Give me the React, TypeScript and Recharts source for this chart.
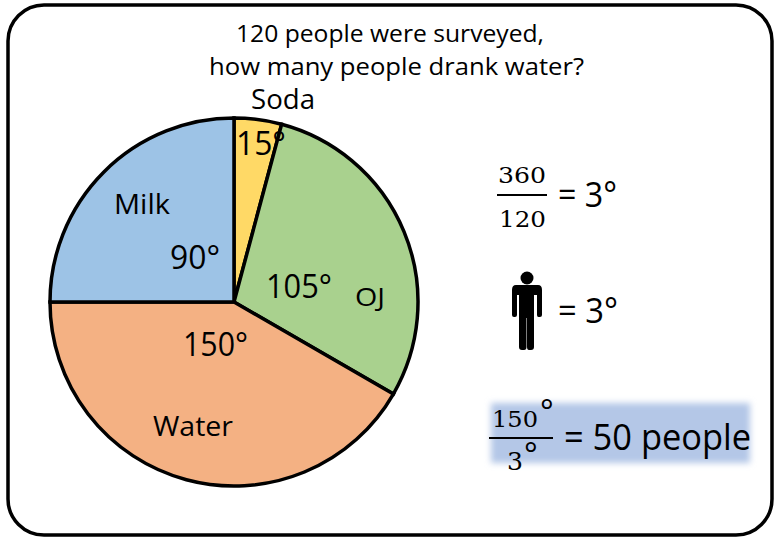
import { Pie, PieChart, Cell } from "recharts";

const drinks = ["Soda", "OJ", "Water", "Milk"];
const degrees = [15, 105, 150, 90];
const sliceColors = ["#ffd966", "#a9d18e", "#f4b183", "#9dc3e6"];

const sans = "'Open Sans', sans-serif";
const serif = "'DejaVu Serif', serif";

// pie center and radius as measured on the reference
const CX = 234;
const CY = 302;
const RADIUS = 184;

// where each slice's name and degree text sit, same order as drinks
const nameSpots = [
  { x: 251, y: 109, size: 28, width: 64 },
  { x: 355, y: 306, size: 25, width: 30 },
  { x: 153, y: 436, size: 28, width: 80 },
  { x: 114, y: 214, size: 28, width: 56 },
];
const degreeSpots = [
  { x: 236, y: 155, size: 33, width: 50 },
  { x: 266, y: 298, size: 32, width: 66 },
  { x: 183, y: 356, size: 32, width: 65 },
  { x: 170, y: 269, size: 32, width: 50 },
];

const rows = drinks.map((name, i) => ({ name, value: degrees[i] }));

function Label({ x, y, size, children, font = sans, width }: any) {
  return (
    <text
      x={x}
      y={y}
      fontSize={size}
      fontFamily={font}
      fill="#000"
      textLength={width}
      lengthAdjust={width ? "spacingAndGlyphs" : undefined}
    >
      {children}
    </text>
  );
}

// Pie draws its labels above the slices, so the texts go here
function sliceLabel({ index }: any) {
  return (
    <g key={drinks[index]}>
      <Label {...nameSpots[index]}>{drinks[index]}</Label>
      <Label {...degreeSpots[index]}>{`${degrees[index]}°`}</Label>
    </g>
  );
}

export default function App() {
  return (
    <div style={{ position: "absolute", left: 0, top: 0, width: 780, height: 540, background: "#fff" }}>
      <PieChart width={780} height={540} margin={{ top: 0, right: 0, bottom: 0, left: 0 }}>
        <defs>
          <filter id="soft" x="-10%" y="-30%" width="120%" height="160%">
            <feGaussianBlur stdDeviation="3" />
          </filter>
        </defs>
        <rect x={8} y={5} width={764} height={530} rx={36} fill="none" stroke="#000" strokeWidth={3.5} />
        <rect x={491} y={403} width={259} height={60} fill="#b4c7e7" filter="url(#soft)" />
        <Pie
          data={rows}
          dataKey="value"
          nameKey="name"
          cx={CX}
          cy={CY}
          outerRadius={RADIUS}
          startAngle={90}
          endAngle={-270}
          stroke="#000"
          strokeWidth={3.5}
          isAnimationActive={false}
          label={sliceLabel}
          labelLine={false}
        >
          {rows.map((row, i) => (
            <Cell key={row.name} fill={sliceColors[i]} />
          ))}
        </Pie>

        <Label x={236} y={42} size={24} width={308}>120 people were surveyed,</Label>
        <Label x={209} y={75} size={24} width={375}>how many people drank water?</Label>

        <Label x={498} y={183} size={23} font={serif} width={48}>360</Label>
        <line x1={497} x2={547} y1={195} y2={195} stroke="#000" strokeWidth={2} />
        <Label x={499} y={227} size={23} font={serif} width={47}>120</Label>
        <Label x={558} y={207} size={34} width={59}>= 3°</Label>
        <Label x={558} y={323} size={34} width={60}>= 3°</Label>

        {/* figure icon */}
        <circle cx={527} cy={278} r={6.5} fill="#000" />
        <path
          d="M516 285 H538 Q542 285 542 290 V315 Q542 317 540 317 H538.5 Q537 317 537 315 V295 H534 V347 Q534 350 531 350 H529 Q527 350 527 347 V318 H526.5 V347 Q526.5 350 524 350 H522 Q519 350 519 347 V295 H517 V315 Q517 317 515 317 H514 Q512 317 512 315 V290 Q512 285 516 285 Z"
          fill="#000"
        />

        <Label x={492} y={427} size={23} font={serif} width={46}>150</Label>
        <Label x={540} y={423} size={32}>°</Label>
        <line x1={489} x2={553} y1={438} y2={438} stroke="#000" strokeWidth={2} />
        <Label x={507} y={470} size={25} font={serif} width={16}>3</Label>
        <Label x={524} y={466} size={32}>°</Label>
        <Label x={564} y={450} size={36} width={187}>= 50 people</Label>
      </PieChart>
    </div>
  );
}
